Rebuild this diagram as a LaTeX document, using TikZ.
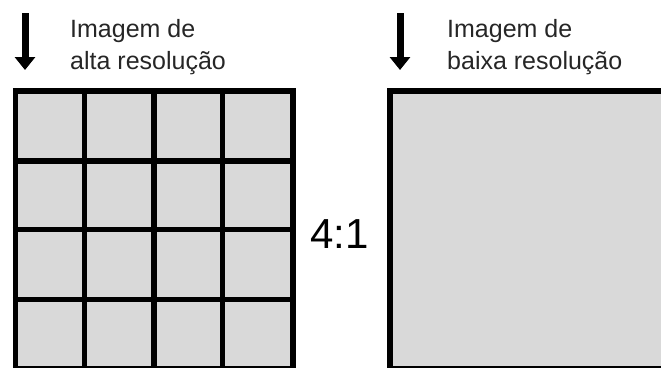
\documentclass[tikz,border=0pt]{standalone}
\usepackage{fontspec}
\setmainfont{Liberation Sans}
\usetikzlibrary{arrows.meta}
\definecolor{cellgray}{HTML}{D9D9D9}
\tikzset{
  caption/.style={anchor=base west, inner sep=0pt, align=left,
    font=\fontsize{25}{31.7}\selectfont, text=black!85},
  ratio/.style={anchor=base west, inner sep=0pt,
    font=\fontsize{42}{48}\selectfont},
  gridline/.style={line width=5.5pt, draw=black},
  downarrow/.style={line width=7pt, -{Triangle[width=20pt,length=13pt]}},
}
\begin{document}
\begin{tikzpicture}[x=1pt,y=-1pt]
  \useasboundingbox (0,0) rectangle (661,367);
  \clip (0,0) rectangle (661,367);

  % high-resolution image: 4x4 cells
  \fill[cellgray] (15.5,91) rectangle (293,368.5);
  \foreach \c in {15.5,84.5,154,222.5,293}
    \draw[gridline] (\c,88.25) -- (\c,371.25);
  \foreach \r in {91,161,229.5,299.5,368.5}
    \draw[gridline] (12.75,\r) -- (295.75,\r);

  % low-resolution image: one cell
  \fill[cellgray] (390,91) rectangle (667.5,368.5);
  \draw[gridline] (390,91) rectangle (667.5,368.5);

  % arrows and captions
  \coordinate (a1s) at (25,13);
  \coordinate (a1e) at (25,70);
  \draw[downarrow] (a1s) -- (a1e);
  \coordinate (a2s) at (400,13);
  \coordinate (a2e) at (400,70);
  \draw[downarrow] (a2s) -- (a2e);

  % the base anchor of a two-line node sits on its last line
  \node[caption] (hi) at (70,69) {Imagem de\\alta resolução};
  \node[caption] (lo) at (447,69) {Imagem de\\baixa resolução};

  \node[ratio] (r) at (310,248) {4:1};
\end{tikzpicture}
\end{document}
